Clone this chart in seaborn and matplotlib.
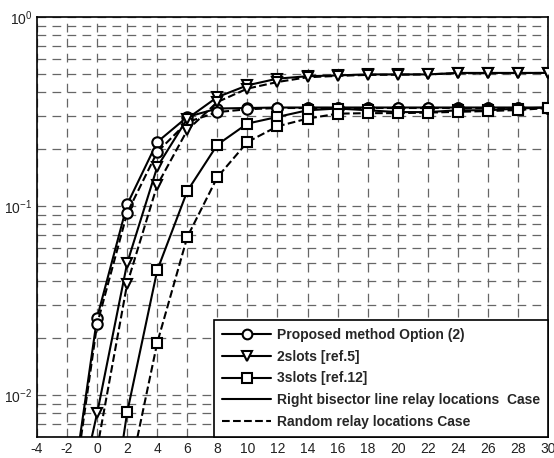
import numpy as np
import pandas as pd
import matplotlib
matplotlib.use("Agg")
import matplotlib.pyplot as plt
from matplotlib.lines import Line2D
import matplotlib.ticker as mticker
import seaborn as sns

# ---------------- data ----------------
snr = [-2, 0, 2, 4, 6, 8, 10, 12, 14, 16, 18, 20, 22, 24, 26, 28, 30]

prop_bisector = [0.0020, 0.0257, 0.102, 0.218, 0.296, 0.328, 0.330, 0.332, 0.332,
                 0.332, 0.332, 0.332, 0.332, 0.332, 0.332, 0.332, 0.332]
prop_random = [0.0018, 0.0237, 0.092, 0.193, 0.278, 0.314, 0.325, 0.330, 0.330,
               0.330, 0.330, 0.330, 0.330, 0.330, 0.330, 0.330, 0.330]
slots2_bisector = [0.00156, 0.0080, 0.0499, 0.161, 0.290, 0.377, 0.435, 0.472, 0.486,
                   0.491, 0.497, 0.497, 0.497, 0.506, 0.506, 0.506, 0.506]
slots2_random = [np.nan, 0.0052, 0.0388, 0.129, 0.252, 0.355, 0.418, 0.453, 0.480,
                 0.488, 0.494, 0.495, 0.497, 0.504, 0.504, 0.505, 0.506]
slots3_bisector = [np.nan, 0.00072, 0.0081, 0.0457, 0.120, 0.211, 0.273, 0.296, 0.321,
                   0.328, 0.321, 0.314, 0.314, 0.321, 0.321, 0.328, 0.332]
slots3_random = [np.nan, np.nan, 0.0033, 0.0189, 0.0686, 0.142, 0.218, 0.264, 0.290,
                 0.308, 0.310, 0.310, 0.312, 0.315, 0.318, 0.322, 0.330]

x_ticks = list(range(-4, 31, 2))
legend_labels = ["Proposed method Option (2)", "2slots [ref.5]", "3slots [ref.12]",
                 "Right bisector line relay locations  Case", "Random relay locations Case"]

# ---------------- style ----------------
sns.set_style("white")
plt.rcParams["font.family"] = ["Liberation Sans", "DejaVu Sans"]
plt.rcParams["mathtext.fontset"] = "custom"
plt.rcParams["mathtext.rm"] = "Liberation Sans"

fig = plt.figure(figsize=(5.54, 4.58), dpi=100)
ax = fig.add_axes([37 / 554, 1 - 437 / 458, 511 / 554, 420 / 458])

series = [
    (prop_bisector, "o", "-"),
    (prop_random, "o", "--"),
    (slots2_bisector, "v", "-"),
    (slots2_random, "v", "--"),
    (slots3_bisector, "s", "-"),
    (slots3_random, "s", "--"),
]

for vals, mk, ls in series:
    df = pd.DataFrame({"x": snr, "y": vals}).dropna()
    sns.lineplot(data=df, x="x", y="y", ax=ax, color="black", linewidth=1.5,
                 linestyle=ls, marker=mk, markersize=7.5, markerfacecolor="white",
                 markeredgecolor="black", markeredgewidth=1.5, sort=False,
                 estimator=None, zorder=3)

ax.set_yscale("log")
ax.set_xlim(-4, 30)
ax.set_ylim(10 ** -2.222, 1)
ax.set_xticks(x_ticks)
ax.set_xticklabels([str(t) for t in x_ticks])
ax.xaxis.set_minor_locator(mticker.NullLocator())
ax.yaxis.set_major_locator(mticker.LogLocator(base=10))
ax.yaxis.set_minor_locator(mticker.LogLocator(base=10, subs=np.arange(2, 10)))
ax.yaxis.set_minor_formatter(mticker.NullFormatter())
ax.set_xlabel("")
ax.set_ylabel("")

grid_kw = dict(color="#666666", linestyle=(0, (7, 5)), linewidth=0.9)
ax.grid(True, which="major", axis="both", **grid_kw)
ax.grid(True, which="minor", axis="y", **grid_kw)
ax.set_axisbelow(True)

for sp in ax.spines.values():
    sp.set_color("black")
    sp.set_linewidth(1.2)

ax.tick_params(axis="both", which="major", labelsize=10, length=3, direction="in",
               colors="black", labelcolor="#222222")
ax.tick_params(axis="y", which="minor", length=0)

handles = [
    Line2D([], [], color="black", lw=1.5, marker="o", markersize=7,
           markerfacecolor="white", markeredgewidth=1.5),
    Line2D([], [], color="black", lw=1.5, marker="v", markersize=7,
           markerfacecolor="white", markeredgewidth=1.5),
    Line2D([], [], color="black", lw=1.5, marker="s", markersize=7,
           markerfacecolor="white", markeredgewidth=1.5),
    Line2D([], [], color="black", lw=1.5, linestyle="-"),
    Line2D([], [], color="black", lw=1.5, linestyle="--"),
]
leg = ax.legend(handles, legend_labels, loc="lower right", borderaxespad=0,
                frameon=True, fancybox=False, framealpha=1, edgecolor="black",
                prop={"weight": "bold", "size": 10}, handlelength=3.5,
                labelspacing=0.55, borderpad=0.6, handletextpad=0.4)
leg.get_frame().set_linewidth(1.2)
leg.set_zorder(5)

fig.savefig("out.png", dpi=100)
